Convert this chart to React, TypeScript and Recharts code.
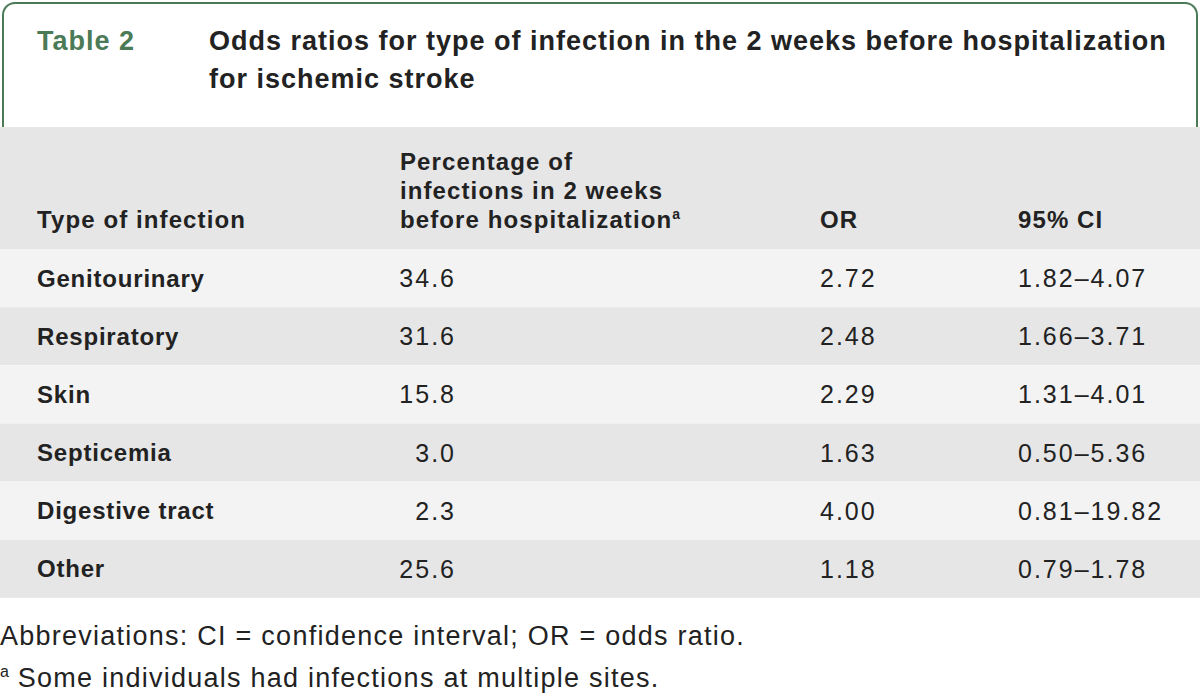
import { BarChart, Bar, XAxis, YAxis, LabelList } from 'recharts'

// table values
const infectionTypes = ['Genitourinary', 'Respiratory', 'Skin', 'Septicemia', 'Digestive tract', 'Other']
const pctInfections = [34.6, 31.6, 15.8, 3.0, 2.3, 25.6]
const oddsRatios = [2.72, 2.48, 2.29, 1.63, 4.0, 1.18]
const ciLow = [1.82, 1.66, 1.31, 0.5, 0.81, 0.79]
const ciHigh = [4.07, 3.71, 4.01, 5.36, 19.82, 1.78]

const rows = infectionTypes.map((type, i) => ({
  type,
  pct: pctInfections[i],
  or: oddsRatios[i],
  ci: `${ciLow[i].toFixed(2)}–${ciHigh[i].toFixed(2)}`,
}))

const GREEN = '#4b7a57'
const INK = '#222222'
const LIGHT = '#f3f3f3'
const GRAY = '#e6e6e6'
const FONT = '"Liberation Sans", Arial, sans-serif'

const cell = (x: number, anchor: 'start' | 'end', bold: boolean, fmt?: (v: any) => string) =>
  (props: any) => {
    const { y, height, value } = props
    return (
      <text
        x={x}
        y={Number(y) + Number(height) / 2}
        dy="0.36em"
        textAnchor={anchor}
        fill={INK}
        fontFamily={FONT}
        fontSize={bold ? 24 : 25}
        fontWeight={bold ? 700 : 400}
        letterSpacing={bold ? 0.8 : 2}
      >
        {fmt ? fmt(value) : value}
      </text>
    )
  }

const rowBackground = (props: any) => {
  const { x, y, width, height, index } = props
  return <rect x={x} y={y} width={width} height={height} fill={index % 2 === 0 ? LIGHT : GRAY} />
}

export default function App() {
  const headStyle: React.CSSProperties = {
    position: 'absolute',
    fontWeight: 700,
    fontSize: 24,
    letterSpacing: 1.1,
    color: INK,
    lineHeight: '29px',
  }
  const titleStyle: React.CSSProperties = {
    position: 'absolute',
    top: 22,
    fontSize: 27,
    fontWeight: 700,
    lineHeight: '38px',
    letterSpacing: 1,
  }
  const noteStyle: React.CSSProperties = {
    position: 'absolute',
    left: 0,
    fontSize: 27,
    color: INK,
    lineHeight: '32px',
    letterSpacing: 1.25,
    whiteSpace: 'nowrap',
  }
  return (
    <div
      style={{
        position: 'absolute',
        left: 0,
        top: 0,
        width: 1200,
        height: 694,
        background: '#fff',
        fontFamily: FONT,
        overflow: 'hidden',
      }}
    >
      {/* title box */}
      <div
        style={{
          position: 'absolute',
          left: 2,
          top: 2,
          width: 1192,
          height: 140,
          border: `2px solid ${GREEN}`,
          borderBottom: 'none',
          borderRadius: '13px 13px 0 0',
        }}
      />
      <div style={{ ...titleStyle, left: 37, color: GREEN }}>Table 2</div>
      <div style={{ ...titleStyle, left: 209, width: 990, color: INK, whiteSpace: 'nowrap' }}>
        Odds ratios for type of infection in the 2 weeks before hospitalization
        <br />
        for ischemic stroke
      </div>

      {/* column header band */}
      <div style={{ position: 'absolute', left: 0, top: 127, width: 1200, height: 122, background: GRAY }} />
      <div style={{ ...headStyle, left: 37, top: 205 }}>Type of infection</div>
      <div style={{ ...headStyle, left: 400, top: 147, whiteSpace: 'nowrap' }}>
        Percentage of
        <br />
        infections in 2 weeks
        <br />
        before hospitalization<sup style={{ fontSize: 14, lineHeight: 0 }}>a</sup>
      </div>
      <div style={{ ...headStyle, left: 820, top: 205 }}>OR</div>
      <div style={{ ...headStyle, left: 1018, top: 205 }}>95% CI</div>

      {/* table body */}
      <div style={{ position: 'absolute', left: 0, top: 249 }}>
        <BarChart
          width={1200}
          height={349}
          data={rows}
          layout="vertical"
          margin={{ top: 0, right: 0, bottom: 0, left: 0 }}
          barCategoryGap={0}
        >
          <XAxis type="number" hide domain={[0, 25]} />
          <YAxis type="category" dataKey="type" hide />
          <Bar dataKey="or" fill="none" background={rowBackground} isAnimationActive={false}>
            <LabelList dataKey="type" content={cell(37, 'start', true)} />
            <LabelList dataKey="pct" content={cell(456, 'end', false, (v) => Number(v).toFixed(1))} />
            <LabelList dataKey="or" content={cell(820, 'start', false, (v) => Number(v).toFixed(2))} />
            <LabelList dataKey="ci" content={cell(1018, 'start', false)} />
          </Bar>
        </BarChart>
      </div>

      {/* footnotes */}
      <div style={{ ...noteStyle, top: 620 }}>Abbreviations: CI = confidence interval; OR = odds ratio.</div>
      <div style={{ ...noteStyle, top: 662 }}>
        <sup style={{ fontSize: 16, lineHeight: 0, letterSpacing: 0 }}>a</sup> Some individuals had infections at multiple sites.
      </div>
    </div>
  )
}
